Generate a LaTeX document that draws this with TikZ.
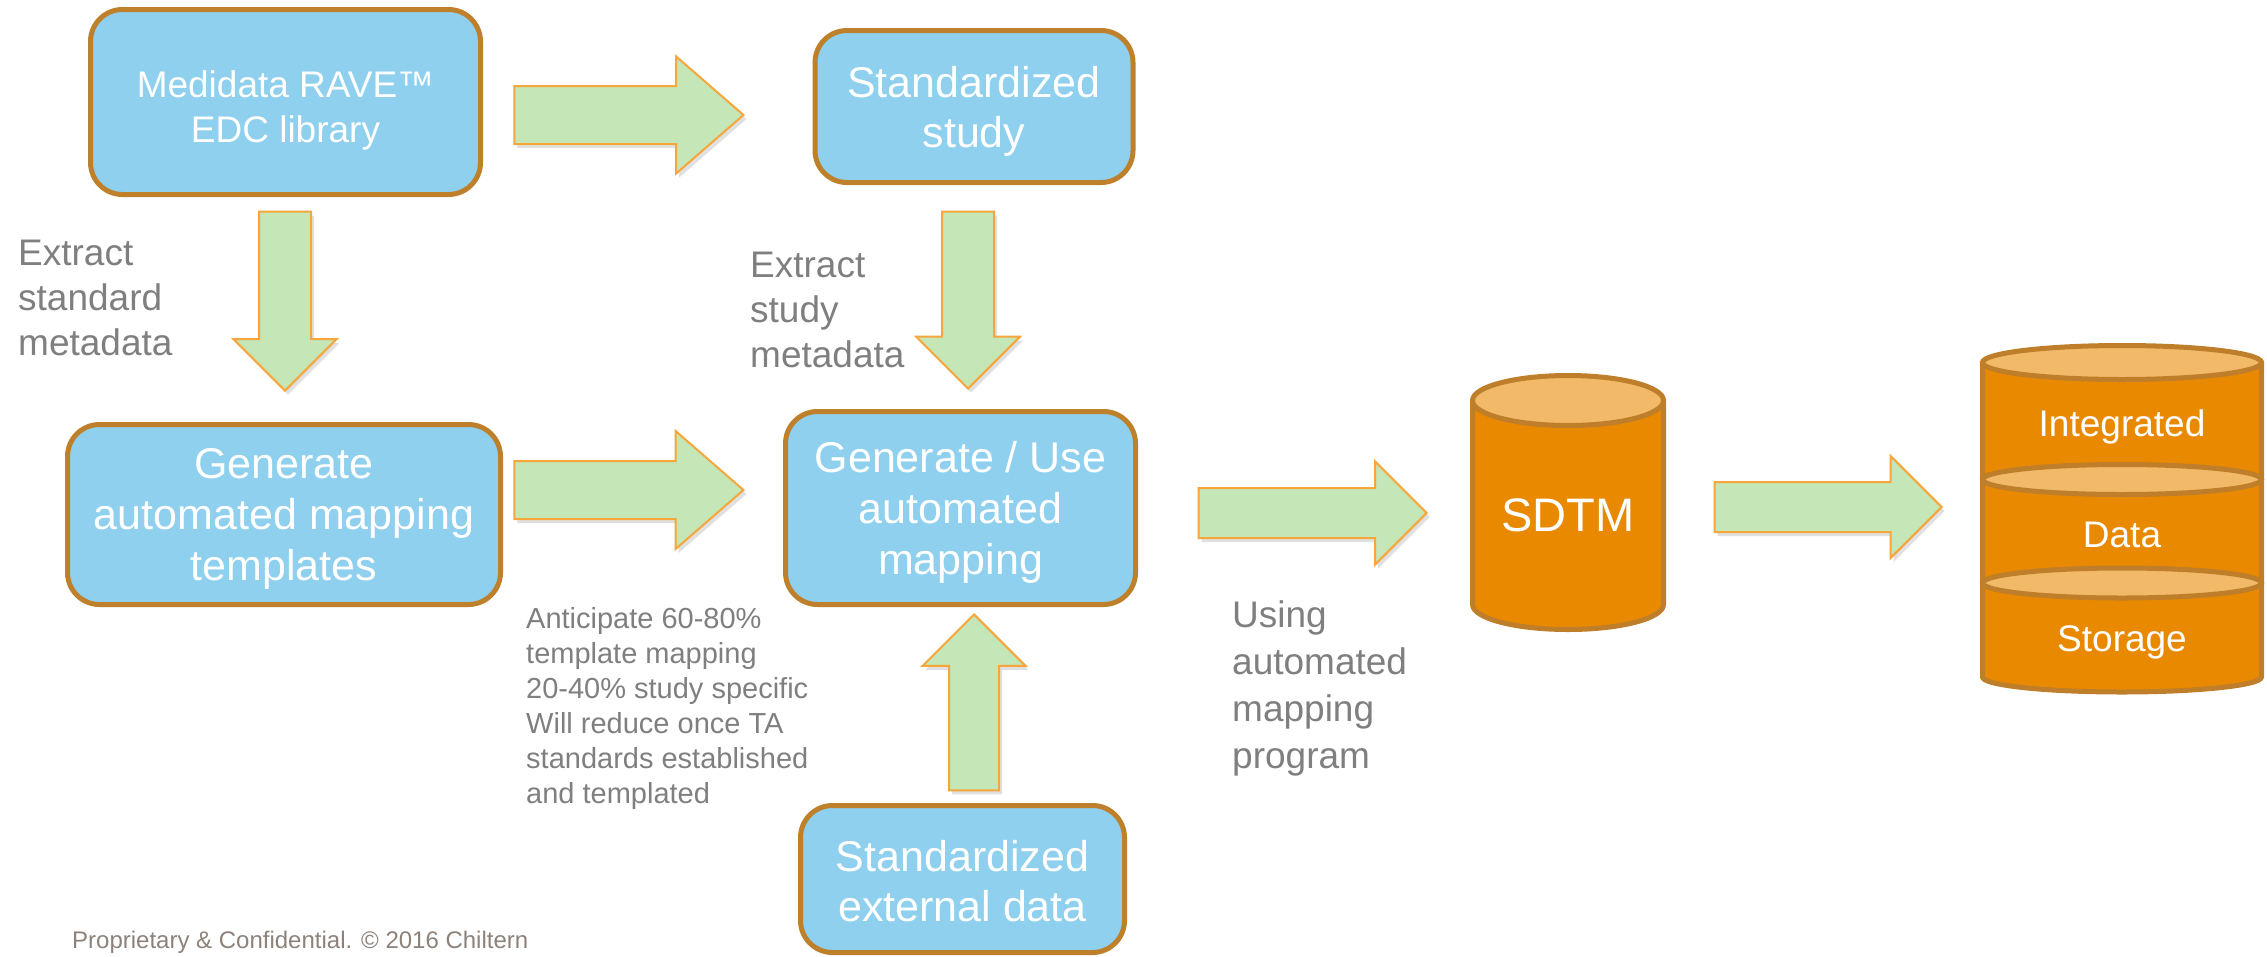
\documentclass[tikz,border=0pt]{standalone}
\usepackage{fontspec}
\setmainfont{Liberation Sans}
\usetikzlibrary{shapes.arrows,shadows}

\definecolor{boxfill}{RGB}{142,208,238}
\definecolor{boxborder}{RGB}{191,128,44}
\definecolor{arrowfill}{RGB}{197,230,183}
\definecolor{arrowborder}{RGB}{246,166,58}
\definecolor{drumbody}{RGB}{233,137,0}
\definecolor{drumtop}{RGB}{241,185,104}
\definecolor{drumborder}{RGB}{190,126,42}
\definecolor{notegray}{RGB}{127,127,127}
\definecolor{footgray}{RGB}{140,130,122}

\tikzset{
  stepbox/.style={draw=boxborder, line width=5pt, fill=boxfill, rounded corners=32pt,
    text=white, align=center, inner sep=0pt, font=\fontsize{43}{51}\selectfont},
  bigarrow/.style={single arrow, draw=arrowborder, line width=2pt, fill=arrowfill,
    inner xsep=0pt, minimum width=0pt, single arrow tip angle=90, anchor=tip,
    drop shadow={shadow xshift=3pt, shadow yshift=-4pt, opacity=0.2, fill=black!60}},
  downarrow/.style={bigarrow, shape border rotate=270, inner ysep=0pt},
  uparrow/.style={bigarrow, shape border rotate=90, inner ysep=0pt},
  sidenote/.style={text=notegray, align=left, inner sep=0pt, anchor=north west,
    font=\fontsize{37}{46}\selectfont},
  drumlabel/.style={text=white, inner sep=0pt, font=\fontsize{37}{44}\selectfont},
}

% cylinder: center x, top y, bottom y, x radius, y radius
\newcommand{\drumshape}[5]{%
  \filldraw[fill=drumbody, draw=drumborder, line width=5pt, line join=round]
    (#1-#4,#2) -- (#1-#4,#3) arc[start angle=180, end angle=0, x radius=#4, y radius=#5]
    -- (#1+#4,#2) -- cycle;
  \filldraw[fill=drumtop, draw=drumborder, line width=5pt] (#1,#2) ellipse[x radius=#4, y radius=#5];
}

\begin{document}
\begin{tikzpicture}[x=1pt, y=-1pt]
    \useasboundingbox (0,0) rectangle (2267,956);

    % Boxes
    \node[stepbox, minimum width=390, minimum height=185, font=\fontsize{37}{45}\selectfont]
      (lib) at (285.5,102) {\rule{0pt}{43pt}Medidata RAVE™\\EDC library};
    \node[stepbox, minimum width=318, minimum height=152, font=\fontsize{43}{50}\selectfont]
      (std) at (974,106.5) {\rule{0pt}{40pt}Standardized\\study};
    \node[stepbox, minimum width=433, minimum height=180] (tmpl) at (284,514.5)
      {\rule{0pt}{38pt}Generate\\automated mapping\\templates};
    \node[stepbox, minimum width=350, minimum height=193] (map) at (960.5,508)
      {\rule{0pt}{39pt}Generate / Use\\automated\\mapping};
    \node[stepbox, minimum width=324, minimum height=147, font=\fontsize{43}{50}\selectfont]
      (ext) at (962.5,879) {\rule{0pt}{35pt}Standardized\\external data};

    % Block arrows
    \node[bigarrow, minimum height=229, inner ysep=28, single arrow head extend=29.5,
      single arrow tip angle=82] (libtostd) at (745,115) {};
    \node[bigarrow, minimum height=229, inner ysep=28, single arrow head extend=30,
      single arrow tip angle=82] (tmpltomap) at (745,490) {};
    \node[downarrow, minimum height=179, inner xsep=25, single arrow head extend=25.5]
      (libtotmpl) at (285,392) {};
    \node[downarrow, minimum height=177, inner xsep=25, single arrow head extend=26]
      (stdtomap) at (968,390) {};
    \node[uparrow, minimum height=176, inner xsep=24, single arrow head extend=26.5]
      (exttomap) at (974,613) {};
    \node[bigarrow, minimum height=228, inner ysep=24, single arrow head extend=26.5]
      (maptosdtm) at (1428,513) {};
    \node[bigarrow, minimum height=227, inner ysep=24, single arrow head extend=26]
      (sdtmtostore) at (1943,507) {};

    % SDTM cylinder
    \drumshape{1568}{400.5}{604.5}{95.5}{25}
    \node[drumlabel, font=\fontsize{47}{54}\selectfont] (sdtm) at (1568,515) {SDTM};

    % Integrated data storage stack
    \drumshape{2122}{362.5}{479.5}{139.5}{17}
    \drumshape{2122}{479.5}{583}{139.5}{15}
    \drumshape{2122}{583}{677}{139.5}{15}
    \node[drumlabel] (integ) at (2122,427) {Integrated};
    \node[drumlabel] (data) at (2122,535) {Data};
    \node[drumlabel] (storage) at (2122,642) {Storage};

    % Side notes
    \node[sidenote, font=\fontsize{37}{45}\selectfont] (extstd) at (18,240) {Extract\\standard\\metadata};
    \node[sidenote, font=\fontsize{37}{45}\selectfont] (extstudy) at (750,252) {Extract\\study\\metadata};
    \node[sidenote, font=\fontsize{37}{47}\selectfont] (using) at (1232,600) {Using\\automated\\mapping\\program};
    \node[sidenote, font=\fontsize{29}{35}\selectfont] (antic) at (526,607)
      {Anticipate 60-80\%\\template mapping\\20-40\% study specific\\Will reduce once TA\\standards established\\and templated};

    % Footer
    \node[anchor=base west, inner sep=0pt, text=footgray, font=\fontsize{24}{28}\selectfont]
      (foot) at (72,948) {Proprietary \& Confidential. © 2016 Chiltern};

\end{tikzpicture}
\end{document}
